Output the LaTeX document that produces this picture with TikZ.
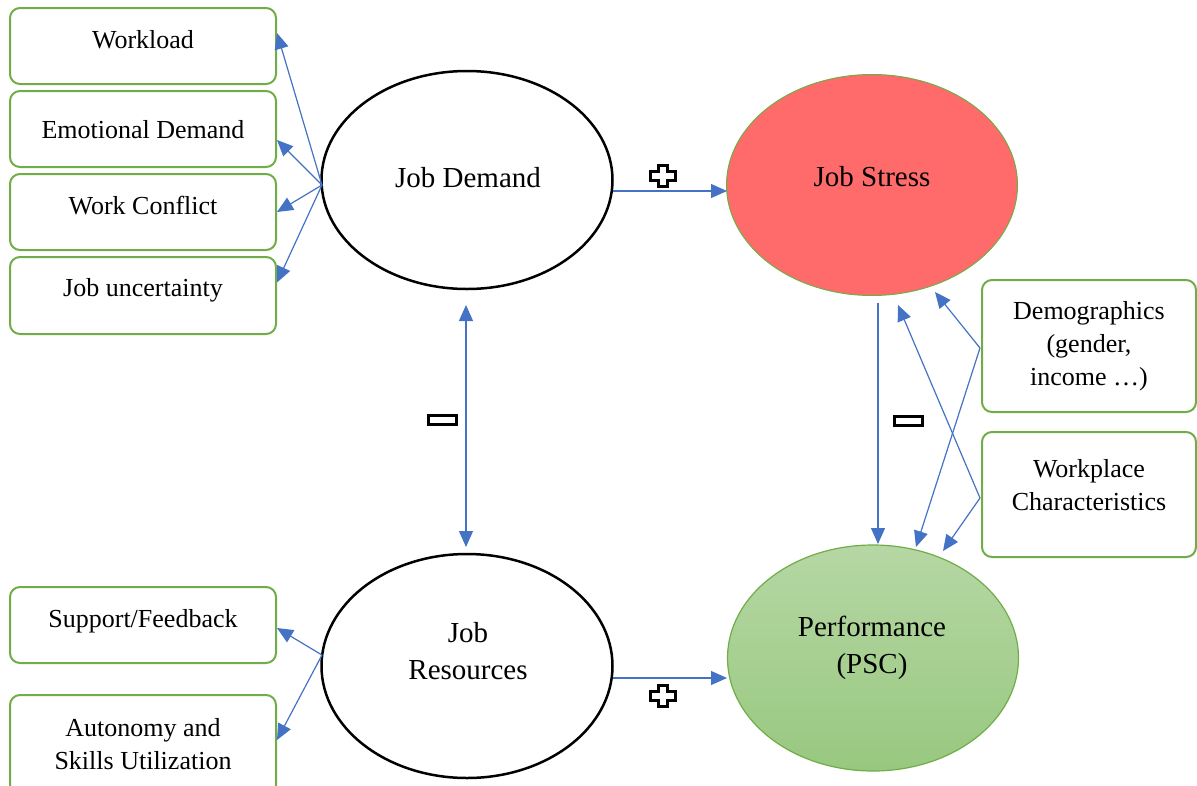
\documentclass[tikz,border=0pt]{standalone}
\usepackage{fontspec}
\setmainfont{Liberation Serif}
\usetikzlibrary{arrows.meta,shapes.geometric}
\definecolor{boxgreen}{RGB}{112,173,71}
\definecolor{arrowblue}{RGB}{68,114,196}
\definecolor{stressred}{RGB}{255,107,107}
\definecolor{perftop}{RGB}{182,215,164}
\definecolor{perfbot}{RGB}{152,200,128}
\begin{document}
\begin{tikzpicture}[x=1pt,y=-1pt,
  factor/.style={draw=boxgreen,line width=2pt,rounded corners=10pt,inner sep=0pt,minimum width=266pt},
  boxtext/.style={font=\fontsize{26}{33}\selectfont,align=center,inner sep=0pt},
  bigtext/.style={font=\fontsize{29}{37}\selectfont,align=center,inner sep=0pt},
  construct/.style={ellipse,inner sep=0pt,minimum width=291pt},
  link/.style={draw=arrowblue,line width=1.2pt,-{Triangle[length=16pt,width=14pt]}},
  twoway/.style={draw=arrowblue,line width=1.2pt,{Triangle[length=16pt,width=14pt]}-{Triangle[length=16pt,width=14pt]}},
  plussign/.pic={\draw[line width=2.8pt,fill=white,line join=miter]
    (-4.5,-10.5)--(4.5,-10.5)--(4.5,-4.5)--(12.5,-4.5)--(12.5,4.5)--(4.5,4.5)--(4.5,10.5)--(-4.5,10.5)--(-4.5,4.5)--(-12.5,4.5)--(-12.5,-4.5)--(-4.5,-4.5)--cycle;},
  minussign/.pic={\draw[line width=3pt,fill=white] (-14,-4.5) rectangle (14,4.5);}
]
\useasboundingbox (0,0) rectangle (1197,785);

% demand and resource factors
\node[factor,minimum height=76pt] (wl) at (143,46) {};
\node[factor,minimum height=76pt] (ed) at (143,129) {};
\node[factor,minimum height=76pt] (wc) at (143,212) {};
\node[factor,minimum height=77pt] (ju) at (143,295.5) {};
\node[factor,minimum height=76pt] (sf) at (143,625) {};
\node[factor,minimum height=100pt] (au) at (143,745) {};
\node[boxtext] (wlt) at (143,40) {Workload};
\node[boxtext] (edt) at (143,130) {Emotional Demand};
\node[boxtext] (wct) at (143,206) {Work Conflict};
\node[boxtext] (jut) at (143,290) {Job uncertainty};
\node[boxtext] (sft) at (143,621) {Support/Feedback};
\node[boxtext] (aut) at (143,744) {Autonomy and\\Skills Utilization};

% moderating factors
\node[factor,minimum width=214pt,minimum height=132pt] (dm) at (1089,346) {};
\node[factor,minimum width=214pt,minimum height=125pt] (wp) at (1089,494.5) {};
\node[boxtext] (dmt) at (1089,346) {Demographics\\(gender,\\income …)};
\node[boxtext] (wpt) at (1089,485) {Workplace\\Characteristics};

% main constructs
\node[construct,draw=black,line width=2.5pt,minimum height=218pt] (jd) at (467,180) {};
\node[construct,draw=black,line width=2.5pt,minimum height=224pt] (jr) at (467,666) {};
\node[construct,draw=boxgreen,line width=1pt,fill=stressred,minimum height=221pt] (js) at (872,185) {};
\node[construct,draw=boxgreen,line width=1.2pt,top color=perftop,bottom color=perfbot,minimum height=226pt] (pf) at (873,658) {};
\node[bigtext] (jdt) at (468,178) {Job Demand};
\node[bigtext] (jrt) at (468,651) {Job\\Resources};
\node[bigtext] (jst) at (872,177) {Job Stress};
\node[bigtext] (pft) at (872,648) {Performance\\(PSC)};

% arrow end points
\coordinate (jdsrc) at (322,185);
\coordinate (jrsrc) at (322,655);
\coordinate (dmsrc) at (980,348);
\coordinate (wpsrc) at (980,498);
\coordinate (jdout) at (613,191);
\coordinate (jsin) at (727,191);
\coordinate (jrout) at (613,678);
\coordinate (pfin) at (727,678);
\coordinate (jdlow) at (466,305);
\coordinate (jrtop) at (466,547);
\coordinate (jslow) at (878,303);
\coordinate (pftop) at (878,544);
\coordinate (jsdm) at (935,292);
\coordinate (jswp) at (898,305);
\coordinate (pfdm) at (916,547);
\coordinate (pfwp) at (943,551);

% factor arrows
\draw[link] (jdsrc) -- ([yshift=13pt]wl.east);
\draw[link] (jdsrc) -- ([yshift=-11pt]ed.east);
\draw[link] (jdsrc) -- ([yshift=0pt]wc.east);
\draw[link] (jdsrc) -- ([yshift=13pt]ju.east);
\draw[link] (jrsrc) -- ([yshift=-3pt]sf.east);
\draw[link] (jrsrc) -- ([yshift=5pt]au.east);

% paths between constructs
\draw[link] (jdout) -- (jsin);
\draw[link] (jrout) -- (pfin);
\draw[twoway] (jdlow) -- (jrtop);
\draw[link] (jslow) -- (pftop);

% moderator arrows
\draw[link] (dmsrc) -- (jsdm);
\draw[link] (dmsrc) -- (pfdm);
\draw[link] (wpsrc) -- (jswp);
\draw[link] (wpsrc) -- (pfwp);

% signs
\pic at (663,176) {plussign};
\pic at (663,696) {plussign};
\pic at (442,420) {minussign};
\pic at (908,421) {minussign};
\end{tikzpicture}
\end{document}
